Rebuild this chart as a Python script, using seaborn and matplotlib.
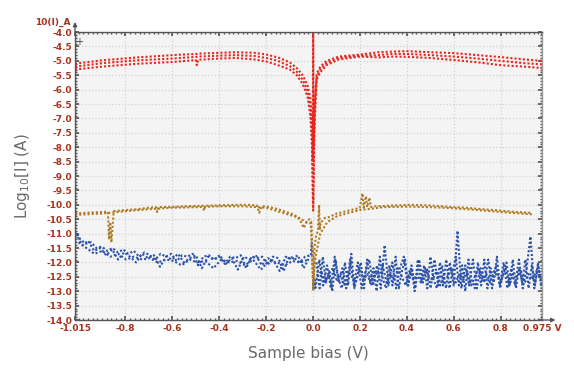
import numpy as np
import matplotlib
matplotlib.use("Agg")
import matplotlib.pyplot as plt
import seaborn as sns

sns.set_theme(style="ticks")
plt.rcParams["font.family"] = ["DejaVu Sans"]

# red curve: sweeps (A range)
red_x = [-1.015, -0.9, -0.75, -0.6, -0.5, -0.496, -0.49, -0.4, -0.33, -0.25, -0.2, -0.15,
         -0.1, -0.07, -0.045, -0.024, -0.012, -0.005, -0.002, 0.0, 0.002, 0.005, 0.01,
         0.015, 0.03, 0.057, 0.11, 0.2, 0.28, 0.33, 0.4, 0.5, 0.6, 0.7, 0.8, 0.9, 0.975]
red_upper = [-5.1, -4.98, -4.88, -4.8, -4.76, -4.76, -4.75, -4.72, -4.7, -4.72, -4.78, -4.88,
             -5.05, -5.25, -5.5, -5.85, -6.3, -7.2, -8.5, -4.02, -8.0, -6.8, -6.0,
             -5.45, -5.2, -5.0, -4.85, -4.78, -4.7, -4.68, -4.66, -4.7, -4.73, -4.8, -4.87, -4.95, -5.0]
red_mid = [-5.2, -5.08, -4.98, -4.92, -4.86, -4.86, -4.85, -4.82, -4.8, -4.83, -4.9, -5.0,
           -5.18, -5.38, -5.65, -6.05, -6.6, -7.6, -9.0, -9.9, -8.6, -7.1, -6.2,
           -5.55, -5.3, -5.08, -4.9, -4.82, -4.8, -4.76, -4.76, -4.8, -4.85, -4.92, -5.0, -5.08, -5.12]
red_lower = [-5.3, -5.2, -5.1, -5.04, -4.97, -5.15, -4.96, -4.92, -4.9, -4.95, -5.02, -5.15,
             -5.3, -5.5, -5.8, -6.25, -6.9, -8.0, -9.5, -10.2, -9.2, -7.5, -6.4,
             -5.65, -5.4, -5.15, -4.95, -4.85, -4.88, -4.85, -4.86, -4.9, -4.97, -5.05, -5.15, -5.2, -5.25]

# orange curve
orange_x = [-1.015, -0.96, -0.9, -0.875, -0.87, -0.865, -0.86, -0.85, -0.8, -0.75, -0.7, -0.67,
            -0.665, -0.66, -0.6, -0.55, -0.5, -0.47, -0.465, -0.46, -0.4, -0.33, -0.28, -0.24,
            -0.23, -0.22, -0.2, -0.15, -0.113, -0.08, -0.058, -0.04, -0.025, -0.015, -0.008,
            -0.004, 0.0, 0.003, 0.006, 0.012, 0.02, 0.025, 0.028, 0.032, 0.04, 0.05, 0.07, 0.1,
            0.126, 0.16, 0.198, 0.21, 0.215, 0.225, 0.23, 0.24, 0.245, 0.26, 0.296, 0.35, 0.41,
            0.5, 0.58, 0.65, 0.72, 0.8, 0.87, 0.934]
orange_y = [-10.3, -10.27, -10.25, -10.24, -11.2, -10.6, -11.3, -10.22, -10.18, -10.15, -10.1, -10.08,
            -10.25, -10.08, -10.07, -10.05, -10.04, -10.03, -10.2, -10.03, -10.02, -10.0, -10.0, -10.02,
            -10.28, -10.05, -10.05, -10.15, -10.25, -10.35, -10.5, -10.8, -10.55, -10.5, -10.6,
            -11.5, -12.95, -12.5, -11.46, -11.1, -10.9, -10.0, -10.87, -10.6, -10.55, -10.45, -10.42, -10.3,
            -10.25, -10.18, -10.11, -9.6, -10.1, -9.7, -10.08, -9.75, -10.07, -10.05, -10.04, -10.02, -10.0,
            -10.02, -10.07, -10.1, -10.15, -10.2, -10.25, -10.28]
orange_b_x = [-1.015, -0.9, -0.8, -0.7, -0.6, -0.5, -0.4, -0.3, -0.2, -0.12, -0.06, -0.03, -0.01,
              0.0, 0.01, 0.03, 0.06, 0.1, 0.15, 0.2, 0.3, 0.4, 0.5, 0.6, 0.7, 0.8, 0.934]
orange_b_y = [-10.35, -10.3, -10.22, -10.15, -10.1, -10.08, -10.05, -10.05, -10.1, -10.3, -10.45, -10.6, -10.65,
              -12.7, -11.8, -11.0, -10.6, -10.4, -10.28, -10.18, -10.08, -10.06, -10.08, -10.12, -10.18, -10.25, -10.33]

# blue curve (noisy, low current)
blue_left = [-10.9, -11.2, -11.35, -11.3, -11.5, -11.45, -11.6, -11.5, -11.65, -11.55,
             -11.7, -11.6, -11.8, -11.65, -11.75, -11.9, -11.7, -11.8, -11.7, -11.95,
             -11.75, -11.8, -11.7, -12.1, -11.8, -11.75, -11.9, -11.8, -12.05, -11.8,
             -11.85, -11.75, -12.2, -11.8, -11.85, -11.8, -12.1, -11.8, -11.85, -12.3,
             -11.8, -11.85, -12.0, -11.8, -11.75]
blue_left_b = [-11.3, -11.5, -11.7, -11.6, -11.8, -11.7, -11.9, -11.8, -11.9, -11.85,
               -12.0, -11.9, -11.95, -12.1, -11.9, -12.0, -11.95, -12.2, -11.9, -12.0,
               -11.95, -12.1, -11.9, -12.25, -11.95, -12.0, -12.1, -11.95, -12.0, -11.9]
blue_left_c = [-11.0, -11.4, -11.25, -11.6, -11.5, -11.75, -11.55, -11.9, -11.65, -11.8,
               -12.0, -11.7, -11.85, -11.75, -12.15, -11.8, -11.9, -11.7, -12.0, -11.85,
               -11.75, -12.2, -11.8, -11.9, -11.75, -12.05, -11.85, -12.25, -11.8, -11.9,
               -11.75, -12.1, -11.85, -11.95, -12.3, -11.8, -11.9, -11.75, -12.2, -11.8]
blue_zero_x = [-0.01, -0.006, -0.003, 0.0, 0.003, 0.006, 0.01]
blue_zero_y = [-11.75, -11.3, -11.6, -12.9, -12.6, -12.9, -12.5]
blue_right = [-12.9, -11.9, -12.8, -12.1, -12.9, -11.8, -12.7, -12.2, -12.9, -11.9,
              -12.8, -12.0, -12.9, -12.3, -11.9, -12.8, -12.1, -12.9, -11.4, -12.8,
              -12.0, -12.9, -12.2, -11.8, -12.8, -12.1, -12.9, -11.9, -12.7, -12.2,
              -12.9, -11.9, -12.8, -12.1, -12.9, -12.0, -12.8, -10.9, -12.9, -12.1,
              -12.8, -11.9, -12.9, -12.2, -12.7, -11.9, -12.9, -12.1, -12.8, -12.0,
              -12.9, -12.2, -12.8, -11.9, -12.9, -12.2, -11.1, -12.9, -12.1, -12.8]
blue_right_b = [-12.5, -12.3, -12.7, -12.4, -12.2, -12.6, -12.4, -12.8, -12.3, -12.5,
                -12.7, -12.2, -12.6, -12.4, -12.8, -12.3, -12.5, -12.1, -12.7, -12.4,
                -12.6, -12.2, -12.5, -12.8, -12.3, -12.6, -12.4, -12.7, -12.2, -12.5,
                -12.6, -12.3, -12.8, -12.4, -12.5, -12.2, -12.7, -12.4, -12.6, -12.3,
                -12.8, -12.5, -12.2, -12.6, -12.4, -12.7, -12.3, -12.5, -12.6, -12.2,
                -12.8, -12.4, -12.5, -12.3, -12.7, -12.4, -12.6, -12.3, -12.5]
blue_right_c = [-12.0, -12.9, -11.8, -12.7, -12.3, -13.0, -11.9, -12.6, -12.9, -12.0,
                -12.8, -11.7, -12.9, -12.4, -12.0, -12.9, -11.9, -12.7, -12.2, -13.0,
                -11.8, -12.6, -12.9, -12.1, -12.8, -11.8, -12.9, -12.3, -11.9, -12.8,
                -12.2, -13.0, -11.9, -12.7, -12.1, -12.9, -11.8, -12.6, -12.9, -12.0,
                -12.8, -11.9, -12.9, -12.3, -11.8, -12.8, -12.1, -13.0, -11.9, -12.6,
                -12.9, -12.0, -12.8, -11.9, -12.9, -12.2, -12.7, -11.8, -12.9, -12.3,
                -12.0, -12.8, -11.9, -12.9, -12.2, -12.7, -11.9, -12.9, -12.1, -12.8,
                -12.0, -12.9]

x_ticks = [-1.015, -0.8, -0.6, -0.4, -0.2, 0.0, 0.2, 0.4, 0.6, 0.8, 0.975]
x_labels = ["-1.015", "-0.8", "-0.6", "-0.4", "-0.2", "0.0", "0.2", "0.4", "0.6", "0.8", "0.975 V"]
y_ticks = np.arange(-14.0, -3.99, 0.5)

RED = "#e8261f"
ORANGE = "#b07a22"
BLUE = "#2b52a8"
TICKCOL = "#a8321c"

fig = plt.figure(figsize=(5.74, 3.73), dpi=100)
ax = fig.add_axes([0.1307, 0.142, 0.8135, 0.772])
ax.set_facecolor("#f4f4f4")

ls = (0, (1, 1))

def line(x, y, c, lw=1.5):
    sns.lineplot(x=x, y=y, ax=ax, color=c, linestyle=ls, linewidth=lw,
                 sort=False, estimator=None)

line(np.linspace(-1.015, -0.012, len(blue_left)), blue_left, BLUE)
line(np.linspace(-1.0, -0.02, len(blue_left_b)), blue_left_b, BLUE)
line(np.linspace(-1.01, -0.015, len(blue_left_c)), blue_left_c, BLUE)
line(blue_zero_x, blue_zero_y, BLUE)
line(np.linspace(0.01, 0.975, len(blue_right)), blue_right, BLUE)
line(np.linspace(0.018, 0.967, len(blue_right_b)), blue_right_b, BLUE)
line(np.linspace(0.014, 0.972, len(blue_right_c)), blue_right_c, BLUE)
line(orange_b_x, orange_b_y, ORANGE)
line(orange_x, orange_y, ORANGE)
line(red_x, red_lower, RED)
line(red_x, red_mid, RED)
line(red_x, red_upper, RED)

ax.set_xlim(-1.015, 0.975)
ax.set_ylim(-14.0, -4.0)
ax.set_xticks(x_ticks)
ax.set_xticklabels(x_labels)
ax.set_yticks(y_ticks)
ax.set_yticklabels([f"{v:.1f}" for v in y_ticks])
ax.set_xticks(np.arange(-1.0, 0.98, 0.02), minor=True)
ax.set_yticks(np.arange(-14.0, -3.99, 0.1), minor=True)
ax.tick_params(which="both", top=True, right=True, direction="in", colors="#555555",
               labelcolor=TICKCOL, labelsize=6.5, pad=2)
ax.tick_params(axis="x", which="both", pad=3)
ax.tick_params(which="major", length=3)
ax.tick_params(which="minor", length=1.5)
for lab in ax.get_xticklabels() + ax.get_yticklabels():
    lab.set_fontweight("bold")
ax.grid(True, which="major", color="#d2d2d2", linestyle=":", linewidth=0.9)
for s in ax.spines.values():
    s.set_color("#555555")
    s.set_linewidth(1.0)
ax.spines["right"].set_color("#999999")

ax.set_xlabel("Sample bias (V)", color="#6a6a6a", fontsize=11, labelpad=9)
ax.set_ylabel(r"Log$_{\mathregular{10}}$[I] (A)", color="#6a6a6a", fontsize=11, labelpad=10)
ax.text(-0.01, 1.035, "10(I)_A", transform=ax.transAxes, ha="right", va="center",
        color=TICKCOL, fontsize=6.5, fontweight="bold")
ax.text(0.008, 0.965, "+", transform=ax.transAxes, ha="center", va="center",
        color="#444444", fontsize=7)

# axis arrows
ax.annotate("", xy=(0, 1.045), xytext=(0, 0.99), xycoords="axes fraction",
            arrowprops=dict(arrowstyle="-|>", color="#555555", lw=1, mutation_scale=6))
ax.annotate("", xy=(1.035, 0), xytext=(0.99, 0), xycoords="axes fraction",
            arrowprops=dict(arrowstyle="-|>", color="#555555", lw=1, mutation_scale=6))

fig.savefig("out.png", dpi=100)
